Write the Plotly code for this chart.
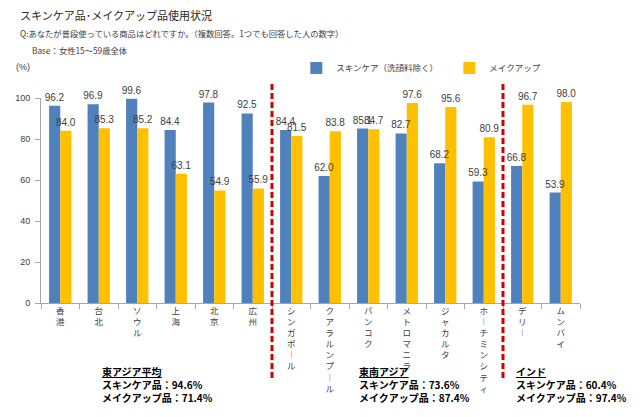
import plotly.graph_objects as go

east_asia = ["香港", "台北", "ソウル", "上海", "北京", "広州"]
southeast_asia = ["シンガポール", "クアラルンプール", "バンコク", "メトロマニラ", "ジャカルタ", "ホーチミンシティ"]
india = ["デリー", "ムンバイ"]
categories = east_asia + southeast_asia + india

skincare = [96.2, 96.9, 99.6, 84.4, 97.8, 92.5, 84.4, 62.0, 85.1, 82.7, 68.2, 59.3, 66.8, 53.9]
makeup = [84.0, 85.3, 85.2, 63.1, 54.9, 55.9, 81.5, 83.8, 84.7, 97.6, 95.6, 80.9, 96.7, 98.0]

series_names = ["スキンケア（洗顔料除く）", "メイクアップ"]

region_titles = ["東アジア平均", "東南アジア", "インド"]
region_skincare = [94.6, 73.6, 60.4]
region_makeup = [71.4, 87.4, 97.4]

BLUE = "#4F81BD"
YELLOW = "#FFC000"
FONT = "Liberation Sans, Noto Sans CJK JP, sans-serif"
JP = "Noto Sans CJK JP, sans-serif"


def vertical(label):
    return "<br>".join("︱" if ch == "ー" else ch for ch in label)


ticktext = [vertical(c) for c in categories]

fig = go.Figure()
series = [(series_names[0], skincare, BLUE, "a"), (series_names[1], makeup, YELLOW, "b")]
for name, vals, col, grp in series:
    fig.add_trace(go.Bar(
        x=categories, y=vals, name=name, offsetgroup=grp,
        marker=dict(color=col, line=dict(width=0)),
    ))
# value labels drawn on top of all bars
for name, vals, col, grp in series:
    fig.add_trace(go.Bar(
        x=categories, y=vals, name=name, offsetgroup=grp, showlegend=False,
        marker=dict(color="rgba(0,0,0,0)", line=dict(width=0)),
        text=[f"{v:.1f}" for v in vals], textposition="outside",
        textfont=dict(size=10, color="#404040", family=FONT),
        constraintext="none", cliponaxis=False, hoverinfo="skip",
    ))

fig.update_layout(
    width=640, height=417,
    margin=dict(l=41, r=60, t=98, b=114),
    paper_bgcolor="white", plot_bgcolor="white",
    barmode="group", bargap=0.42, bargroupgap=0,
    font=dict(family=FONT, color="#404040"),
    showlegend=True,
    legend=dict(orientation="h", xref="container", yref="container",
                x=0.463, xanchor="left", y=0.837, yanchor="middle",
                font=dict(size=8.5, family=JP, color="#404040"), itemwidth=30,
                entrywidth=108, bgcolor="rgba(0,0,0,0)"),
    xaxis=dict(tickmode="array", tickvals=categories, ticktext=ticktext,
               tickfont=dict(size=8.5, family=JP, color="#404040"),
               showline=True, linecolor="#A6A6A6", linewidth=1,
               ticks="outside", ticklen=5, tickcolor="#A6A6A6", tickson="boundaries",
               showgrid=False, automargin=False),
    yaxis=dict(range=[0, 100], dtick=20, showline=True, linecolor="#A6A6A6", linewidth=1,
               ticks="outside", ticklen=5, tickcolor="#A6A6A6", showgrid=False,
               tickfont=dict(size=9, color="#404040"), zeroline=False, automargin=False,
               ticklabelstandoff=3),
)

# group separators computed from group sizes
bounds = [len(east_asia) - 0.5, len(east_asia) + len(southeast_asia) - 0.5]
for b in bounds:
    fig.add_shape(type="line", xref="x", yref="paper", x0=b, x1=b, y0=-0.366, y1=1.073,
                  line=dict(color="#D00000", width=3, dash="6px,3px"))

# header texts
fig.add_annotation(text="スキンケア品･メイクアップ品使用状況", xref="paper", yref="paper",
                   x=-0.043, y=1.405, xanchor="left", yanchor="middle", showarrow=False,
                   font=dict(size=11, family=JP, color="#262626"))
fig.add_annotation(text="Q:あなたが普段使っている商品はどれですか。（複数回答。1つでも回答した人の数字）",
                   xref="paper", yref="paper", x=-0.043, y=1.315, xanchor="left", yanchor="middle",
                   showarrow=False, font=dict(size=8.3, family=JP, color="#404040"))
fig.add_annotation(text="Base：女性15～59歳全体", xref="paper", yref="paper",
                   x=-0.02, y=1.236, xanchor="left", yanchor="middle",
                   showarrow=False, font=dict(size=8.3, family=JP, color="#404040"))
fig.add_annotation(text="(%)", xref="paper", yref="paper", x=-0.05, y=1.15,
                   xanchor="left", yanchor="middle", showarrow=False,
                   font=dict(size=9, color="#404040"))

region_x = [0.11, 0.587, 0.878]
for t, s, m, xx in zip(region_titles, region_skincare, region_makeup, region_x):
    fig.add_annotation(
        text=f"<b><u>{t}</u><br>スキンケア品：{s:.1f}%<br>メイクアップ品：{m:.1f}%</b>",
        xref="paper", yref="paper", x=xx, y=-0.29, xanchor="left", yanchor="top",
        align="left", showarrow=False, font=dict(size=10, family=JP, color="black"))

fig.write_html("out.html", config={"displayModeBar": False},
               post_script="document.body.style.margin='0';document.body.style.padding='0';")
